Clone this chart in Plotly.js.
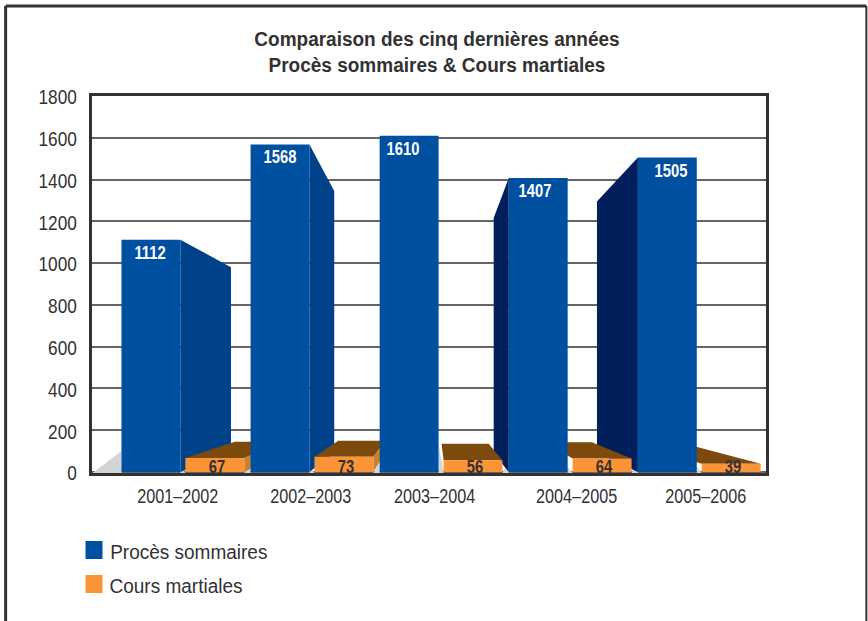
<!DOCTYPE html>
<html>
<head>
<meta charset="utf-8">
<script src="https://cdn.plot.ly/plotly-3.0.1.min.js"></script>
<style>html,body{margin:0;padding:0;background:#fff}#chart{width:868px;height:621px}</style>
</head>
<body>
<div id="chart"></div>
<script>
// Summary trials and courts martial over five reporting years
const years = ['2001–2002', '2002–2003', '2003–2004', '2004–2005', '2005–2006'];
const summaryTrials = [1112, 1568, 1610, 1407, 1505];
const courtsMartial = [67, 73, 56, 64, 39];
const yTicks = [0, 200, 400, 600, 800, 1000, 1200, 1400, 1600, 1800];
const yearOffsets = [-0.04, -0.01, -0.05, 0.05, 0.05];
const summaryLabelShift = [-1, 0, -6, -3, 4];

const W = 868, H = 621;
const plot = {l: 91.5, r: 766.5, t: 96, b: 473};
const DARK = '#333132', BLUE = '#0050a2', ORANGE = '#fb9337', BROWN = '#7d4a0e';
const SIDE_ORANGE = '#c9802f', SIDE_RIGHT = '#00428a', SIDE_LEFT = '#001f5b', FLOOR = '#d3d4d6';

// Perspective: every bar recedes towards one vanishing point
const vanish = {x: 1.94, y: 453};
const depth = 0.2;
const barOffset = 0.2475, barHalf = 0.228;
const recede = (x, y) => [x + (vanish.x - x) * depth, y + (vanish.y - y) * depth];

function polygon(pts, color) {
  return {
    type: 'scatter', mode: 'lines', x: pts.map(p => p[0]).concat(pts[0][0]), y: pts.map(p => p[1]).concat(pts[0][1]),
    fill: 'toself', fillcolor: color, line: {width: 0, color: color}, hoverinfo: 'skip', showlegend: false
  };
}
// One receding face that runs back from the vertical edge at x
function sideFace(x, top, color) {
  return polygon([[x, top], recede(x, top), recede(x, 0), [x, 0]], color);
}
function topFace(x0, x1, top, color) {
  return polygon([[x0, top], [x1, top], recede(x1, top), recede(x0, top)], color);
}

const faces = [];
// Light floor: a wedge beside the first bar and small wedges in the gaps between bars
faces.push(polygon([[-0.70, -5], [-0.475, 100], [-0.475, -5]], FLOOR));
years.forEach((_, i) => {
  const blueRight = i - barOffset + barHalf, orangeLeft = i + barOffset - barHalf;
  const orangeRight = i + barOffset + barHalf, nextBlueLeft = i + 1 - barOffset - barHalf;
  faces.push(polygon([[blueRight, -5], [orangeLeft, -5], [blueRight, i === 2 ? 140 : 25]], FLOOR));
  if (i < years.length - 1) faces.push(polygon([[orangeRight, -5], [nextBlueLeft, -5], [nextBlueLeft, 45]], FLOOR));
});
years.forEach((_, i) => {
  const left = i - barOffset - barHalf, right = i - barOffset + barHalf;
  if (right < vanish.x - 0.1) faces.push(sideFace(right, summaryTrials[i], SIDE_RIGHT));
  else if (left > vanish.x) faces.push(sideFace(left, summaryTrials[i], SIDE_LEFT));
});
years.forEach((_, i) => {
  const left = i + barOffset - barHalf, right = i + barOffset + barHalf;
  if (right < vanish.x) faces.push(sideFace(right, courtsMartial[i], SIDE_ORANGE));
  faces.push(topFace(left, right, courtsMartial[i], BROWN));
});

const bars = [
  {type: 'bar', name: 'Procès sommaires', x: years.map((_, i) => i), y: summaryTrials, marker: {color: BLUE}, xaxis: 'x2', yaxis: 'y2', showlegend: false},
  {type: 'bar', name: 'Cours martiales', x: years.map((_, i) => i), y: courtsMartial, marker: {color: ORANGE}, xaxis: 'x2', yaxis: 'y2', showlegend: false}
];

const sans = '"Liberation Sans", Arial, sans-serif';
const annotations = [];
summaryTrials.forEach((v, i) => annotations.push({
  x: i - barOffset, y: v, xref: 'x', yref: 'y', text: String(v), showarrow: false, yanchor: 'top', yshift: -1, xshift: summaryLabelShift[i],
  font: {family: sans, size: 18, color: '#fff', weight: 700}
}));
courtsMartial.forEach((v, i) => annotations.push({
  x: i + barOffset, y: 0, xref: 'x', yref: 'y', text: String(v), showarrow: false, yanchor: 'bottom', yshift: -7, xshift: 2,
  font: {family: sans, size: 18, color: DARK, weight: 700}
}));

const paperX = x => (x - plot.l) / (plot.r - plot.l);
const paperY = y => (plot.b - y) / (plot.b - plot.t);
const legendItems = [['Procès sommaires', BLUE, 550], ['Cours martiales', ORANGE, 584]];
legendItems.forEach(([label, , y]) => annotations.push({
  xref: 'paper', yref: 'paper', x: paperX(104), y: paperY(y + 2), xanchor: 'left', yanchor: 'middle', text: label, showarrow: false,
  font: {family: sans, size: 20, color: DARK}
}));

const shapes = legendItems.map(([, color, y]) => ({
  type: 'rect', xref: 'paper', yref: 'paper', x0: paperX(85), x1: paperX(102), y0: paperY(y - 9), y1: paperY(y + 9), fillcolor: color, line: {width: 0}
}));
// Outer page frame, open at the bottom
[[5, 6, 5, 621, 3], [5, 6, 867, 6, 3], [867, 6, 867, 621, 2]].forEach(([x0, y0, x1, y1, w]) => shapes.push({
  type: 'line', xref: 'paper', yref: 'paper', x0: paperX(x0), y0: paperY(y0), x1: paperX(x1), y1: paperY(y1), line: {color: DARK, width: w}
}));

const xRange = [-0.704, 4.517], yRange = [-5, 1800];
const layout = {
  width: W, height: H, paper_bgcolor: '#fff', plot_bgcolor: '#fff', showlegend: false,
  margin: {l: plot.l, r: W - plot.r, t: plot.t, b: H - plot.b},
  barmode: 'group', bargap: 0.01, bargroupgap: 0.078,
  title: {
    text: 'Comparaison des cinq dernières années<br>Procès sommaires &amp; Cours martiales',
    x: 437 / W, xanchor: 'center', y: 1 - 46 / H, yanchor: 'top',
    font: {family: sans, size: 20, color: DARK, weight: 700}
  },
  xaxis: {
    type: 'linear', range: xRange, tickmode: 'array', tickvals: years.map((_, i) => i + yearOffsets[i]), ticktext: years,
    showgrid: false, zeroline: false, showline: true, mirror: true, linecolor: DARK, linewidth: 3,
    ticks: 'outside', ticklen: 3, tickcolor: 'rgba(0,0,0,0)',
    tickfont: {family: sans, size: 20, color: DARK}
  },
  yaxis: {
    range: yRange, tickmode: 'array', tickvals: yTicks, ticktext: yTicks.map(String),
    showgrid: true, gridcolor: '#666566', gridwidth: 2, zeroline: false, showline: true, mirror: true, linecolor: DARK, linewidth: 3,
    ticks: 'outside', ticklen: 8, tickcolor: 'rgba(0,0,0,0)', ticklabelshift: 1,
    tickfont: {family: sans, size: 21, color: DARK}
  },
  xaxis2: {overlaying: 'x', matches: 'x', visible: false},
  yaxis2: {overlaying: 'y', matches: 'y', visible: false},
  annotations, shapes
};

// Tighten glyph widths so the labels read as a condensed face
function condense(selector, factor) {
  document.querySelectorAll(selector).forEach(el => {
    el.setAttribute('textLength', el.getComputedTextLength() * factor);
    el.setAttribute('lengthAdjust', 'spacingAndGlyphs');
  });
}

Plotly.newPlot('chart', faces.concat(bars), layout, {displayModeBar: false, staticPlot: true}).then(() => {
  condense('#chart .xtick text', 0.81);
  condense('#chart .ytick text', 0.82);
  condense('#chart .annotation-text', 0.82);
  condense('#chart .gtitle tspan.line', 0.95);
  legendItems.forEach(([label]) => {
    document.querySelectorAll('#chart .annotation-text').forEach(el => {
      if (el.textContent === label) {
        el.removeAttribute('textLength');
        el.setAttribute('textLength', el.getComputedTextLength() * 0.95);
      }
    });
  });
});
</script>
</body>
</html>
